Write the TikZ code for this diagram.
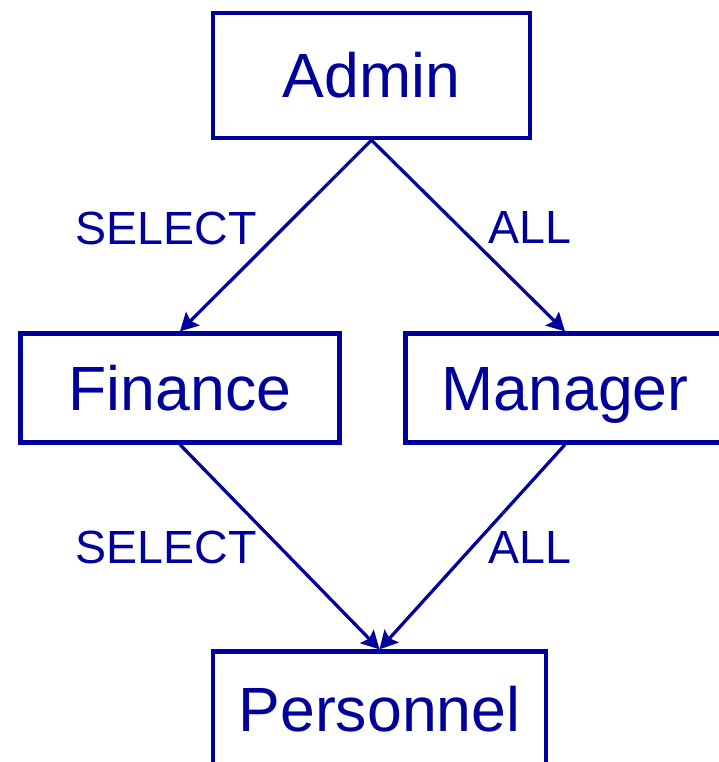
\documentclass[tikz,border=0pt]{standalone}
\usepackage{fontspec}
\setmainfont{Liberation Sans}
\usetikzlibrary{arrows.meta}
\definecolor{role ink}{RGB}{0,0,155}
\tikzset{role/.style={draw=role ink, line width=0.085cm, text=role ink,
    minimum width=6.38cm, minimum height=2.18cm, inner sep=0pt,
    text height=25.5pt, text depth=0pt, font=\fontsize{35.6}{40}\selectfont},
  grant/.style={draw=role ink, line width=0.065cm,
    -{Stealth[length=0.36cm, width=0.38cm, inset=0.06cm]}},
  privilege/.style={text=role ink, inner sep=0pt, text height=19pt,
    text depth=0pt, font=\fontsize{26.5}{30}\selectfont}}

\begin{document}
\begin{tikzpicture}[x=0.02cm, y=-0.02cm]
  \useasboundingbox (0,0) rectangle (719,762);
  \clip (0,0) rectangle (719,762);
  % roles
  \node[role, minimum width=6.34cm, minimum height=2.5cm] (admin) at (371.5,75.5) {Admin};
  \node[role] (finance) at (180,388) {Finance};
  \node[role] (manager) at (565,388) {Manager};
  \node[role, minimum width=6.66cm, minimum height=2.3cm] (personnel) at (379.5,709) {Personnel};
  % grants between roles
  \draw[grant] (admin.south) -- (finance.north);
  \draw[grant] (admin.south) -- (manager.north);
  \draw[grant] (finance.south) -- (personnel.north);
  \draw[grant] (manager.south) -- (personnel.north);
  \node[privilege] (selA) at (166,227.5) {SELECT};
  \node[privilege] (allA) at (530,226.5) {ALL};
  \node[privilege] (selB) at (166,547) {SELECT};
  \node[privilege] (allB) at (530,547) {ALL};
\end{tikzpicture}
\end{document}
